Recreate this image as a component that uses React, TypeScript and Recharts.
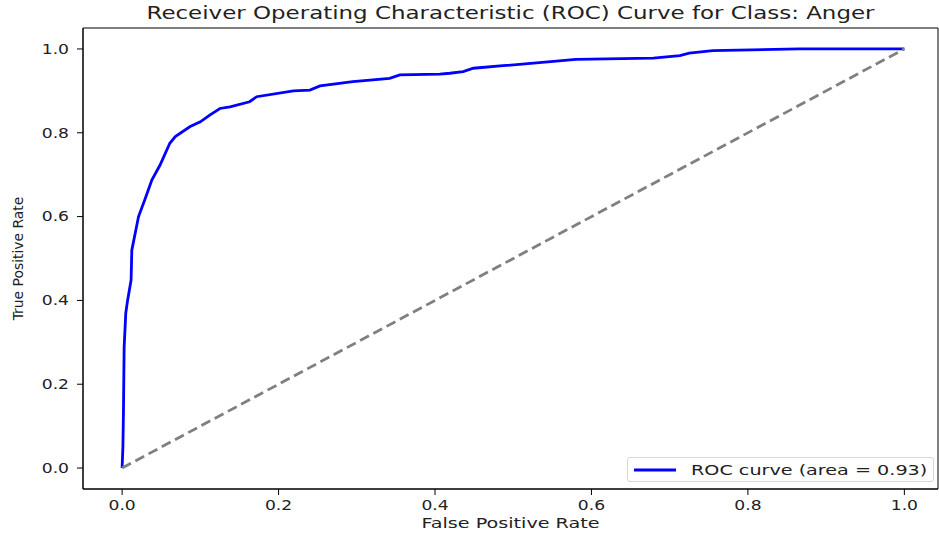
import { LineChart, Line, XAxis, YAxis, ReferenceArea } from 'recharts';

// ROC curve points
const fpr = [0, 0.001, 0.0017, 0.0026, 0.0047, 0.007, 0.0115, 0.0124, 0.021, 0.029, 0.038, 0.0485, 0.061, 0.068, 0.087, 0.1, 0.112, 0.125, 0.138, 0.163, 0.172, 0.219, 0.24, 0.253, 0.295, 0.342, 0.355, 0.406, 0.419, 0.436, 0.449, 0.487, 0.555, 0.58, 0.679, 0.713, 0.725, 0.755, 0.866, 1.0];
const tpr = [0, 0.05, 0.13, 0.289, 0.37, 0.4, 0.449, 0.52, 0.6, 0.64, 0.687, 0.723, 0.775, 0.791, 0.815, 0.826, 0.842, 0.858, 0.862, 0.874, 0.886, 0.9, 0.902, 0.912, 0.922, 0.93, 0.938, 0.94, 0.942, 0.946, 0.954, 0.96, 0.971, 0.975, 0.978, 0.984, 0.99, 0.996, 1.0, 1.0];
const chanceX = [0, 1];
const chanceY = [0, 1];
const ticks = [0, 0.2, 0.4, 0.6, 0.8, 1.0];
const areaLabel = 'ROC curve (area = 0.93)';

const rocData = fpr.map((x, i) => ({ x, y: tpr[i] }));
const chanceData = chanceX.map((x, i) => ({ x, y: chanceY[i] }));

const FONT = '"DejaVu Sans", sans-serif';
const TICK_STRETCH = 1.27;
const LABEL_STRETCH = 1.4;
// the original figure is cropped a little on the right
const X_DOMAIN: [number, number] = [-0.05, 1.043];
const Y_DOMAIN: [number, number] = [-0.05, 1.05];

function XTick({ x, y, payload }: any) {
  return (
    <g transform={`translate(${x},${y}) scale(${TICK_STRETCH},1)`}>
      <text textAnchor="middle" dy="0.71em" fontSize={13.5} fontFamily={FONT} fill="#222">
        {Number(payload.value).toFixed(1)}
      </text>
    </g>
  );
}

function YTick({ x, y, payload }: any) {
  return (
    <g transform={`translate(${x},${y}) scale(${TICK_STRETCH},1)`}>
      <text textAnchor="end" dy="0.355em" fontSize={13.5} fontFamily={FONT} fill="#222">
        {Number(payload.value).toFixed(1)}
      </text>
    </g>
  );
}

function XLabel({ viewBox }: any) {
  const cx = viewBox.x + viewBox.width / 2;
  return (
    <g transform={`translate(${cx},528) scale(${LABEL_STRETCH},1)`}>
      <text textAnchor="middle" fontSize={13.7} fontFamily={FONT} fill="#222">False Positive Rate</text>
    </g>
  );
}

function YLabel({ viewBox }: any) {
  const cy = viewBox.y + viewBox.height / 2;
  return (
    <g transform={`translate(23,${cy}) rotate(-90) scale(1.03,1)`}>
      <text textAnchor="middle" fontSize={13.5} fontFamily={FONT} fill="#222">True Positive Rate</text>
    </g>
  );
}

function RocLegend() {
  return (
    <div
      style={{
        position: 'absolute',
        left: 627,
        top: 457,
        width: 305,
        height: 23,
        border: '1px solid #d6d6d6',
        borderRadius: 3,
        background: 'rgba(255,255,255,0.8)',
        display: 'flex',
        alignItems: 'center',
        boxSizing: 'content-box',
      }}
    >
      <svg width={56} height={23}>
        <line x1={6} y1={12} x2={48} y2={12} stroke="#0000ff" strokeWidth={2.8} />
      </svg>
      <span
        style={{
          fontFamily: FONT,
          fontSize: 13.7,
          color: '#222',
          display: 'inline-block',
          transform: `scaleX(${LABEL_STRETCH})`,
          transformOrigin: 'left center',
          whiteSpace: 'nowrap',
          marginLeft: 7,
        }}
      >
        {areaLabel}
      </span>
    </div>
  );
}

export default function App() {
  return (
    <div style={{ position: 'absolute', left: 0, top: 0, width: 939, height: 539, background: '#fff' }}>
      <div
        style={{
          position: 'absolute',
          left: 0,
          top: 0,
          width: 1021,
          textAlign: 'center',
          fontFamily: FONT,
          fontSize: 17.8,
          color: '#222',
          lineHeight: '26px',
          transform: 'scaleX(1.29)',
          whiteSpace: 'nowrap',
        }}
      >
        Receiver Operating Characteristic (ROC) Curve for Class: Anger
      </div>
      <LineChart width={939} height={539} margin={{ top: 28, right: 1, bottom: 0, left: 23 }}>
        <XAxis
          type="number"
          dataKey="x"
          domain={X_DOMAIN}
          ticks={ticks}
          allowDataOverflow
          height={50}
          tickSize={6}
          tickMargin={5}
          tick={<XTick />}
          axisLine={{ stroke: '#000', strokeWidth: 1 }}
          tickLine={{ stroke: '#000', strokeWidth: 1 }}
          label={<XLabel />}
        />
        <YAxis
          type="number"
          dataKey="y"
          domain={Y_DOMAIN}
          ticks={ticks}
          allowDataOverflow
          width={60}
          tickSize={6}
          tickMargin={8}
          tick={<YTick />}
          axisLine={{ stroke: '#000', strokeWidth: 1 }}
          tickLine={{ stroke: '#000', strokeWidth: 1 }}
          label={<YLabel />}
        />
        <ReferenceArea x1={X_DOMAIN[0]} x2={X_DOMAIN[1]} y1={Y_DOMAIN[0]} y2={Y_DOMAIN[1]} fill="none" stroke="#000" strokeWidth={1} />
        <Line
          data={rocData}
          dataKey="y"
          type="linear"
          stroke="#0000ff"
          strokeWidth={2.8}
          dot={false}
          isAnimationActive={false}
          name={areaLabel}
        />
        <Line
          data={chanceData}
          dataKey="y"
          type="linear"
          stroke="#808080"
          strokeWidth={2.8}
          strokeDasharray="10 5"
          dot={false}
          isAnimationActive={false}
        />
      </LineChart>
      <RocLegend />
    </div>
  );
}
